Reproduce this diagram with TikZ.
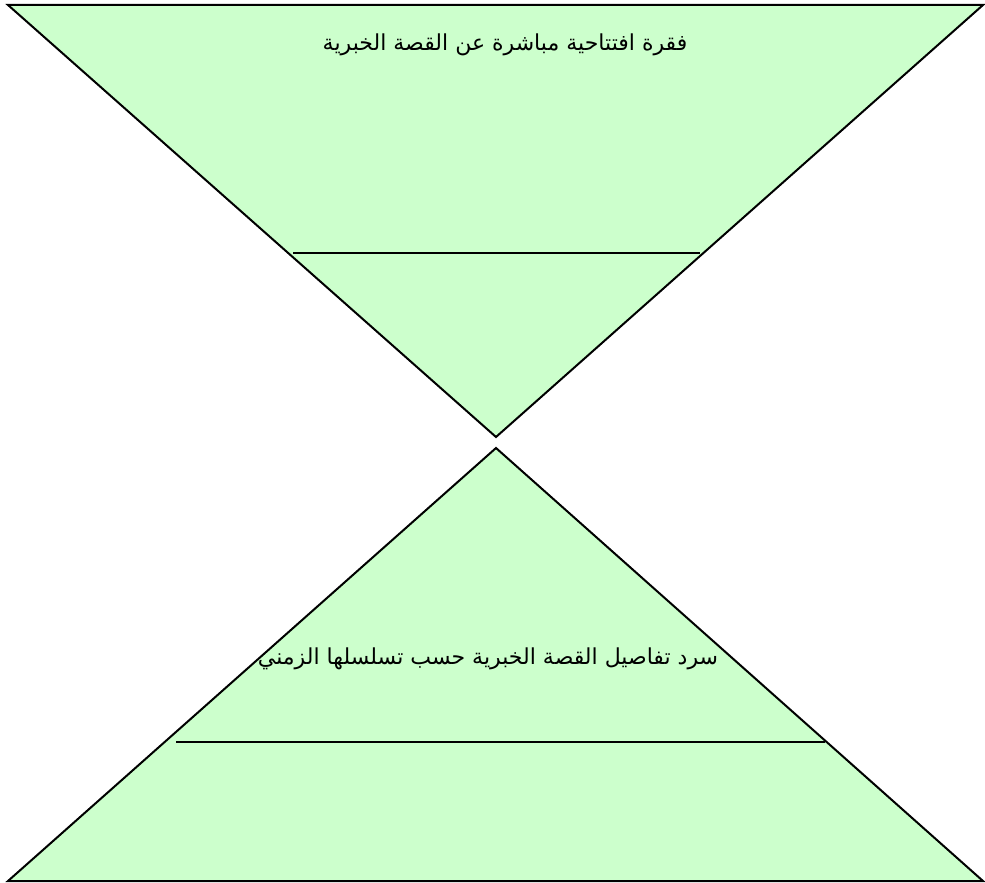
\documentclass[tikz,border=0pt]{standalone}
\usepackage{fontspec}
\usepackage{xcolor}
\usepackage{tikz}
\usetikzlibrary{positioning,calc}
\TeXXeTstate=1
\newfontfamily\arabicfont[Script=Arabic]{DejaVu Sans}
\definecolor{palegreen}{HTML}{CCFFCC}

\begin{document}
\begin{tikzpicture}[x=1pt, y=-1pt,
  tri/.style={draw, fill=palegreen, line width=2pt, line join=miter},
  divider/.style={draw, line width=2pt},
  label/.style={font=\arabicfont\fontsize{22}{26}\selectfont, inner sep=0pt}]

  \useasboundingbox (0,0) rectangle (985,883);

  % upper (inverted) triangle
  \coordinate (utl) at (8,5);
  \coordinate (utr) at (983,5);
  \coordinate (utip) at (496,437);
  \draw[tri] (utl) -- (utr) -- (utip) -- cycle;

  % lower triangle
  \coordinate (ltip) at (496,448);
  \coordinate (lbl) at (8,881);
  \coordinate (lbr) at (983,881);
  \draw[tri] (ltip) -- (lbr) -- (lbl) -- cycle;

  % dividers
  \coordinate (ud1) at (293,253);
  \coordinate (ud2) at (700,253);
  \draw[divider] (ud1) -- (ud2);
  \coordinate (ld1) at (176,742);
  \coordinate (ld2) at (825,742);
  \draw[divider] (ld1) -- (ld2);

  % texts
  \node[label] (lead) at (505,45) {\beginR فقرة افتتاحية مباشرة عن القصة الخبرية\endR};
  \node[label] (body) at (488,659) {\beginR سرد تفاصيل القصة الخبرية حسب تسلسلها الزمني\endR};

\end{tikzpicture}
\end{document}
